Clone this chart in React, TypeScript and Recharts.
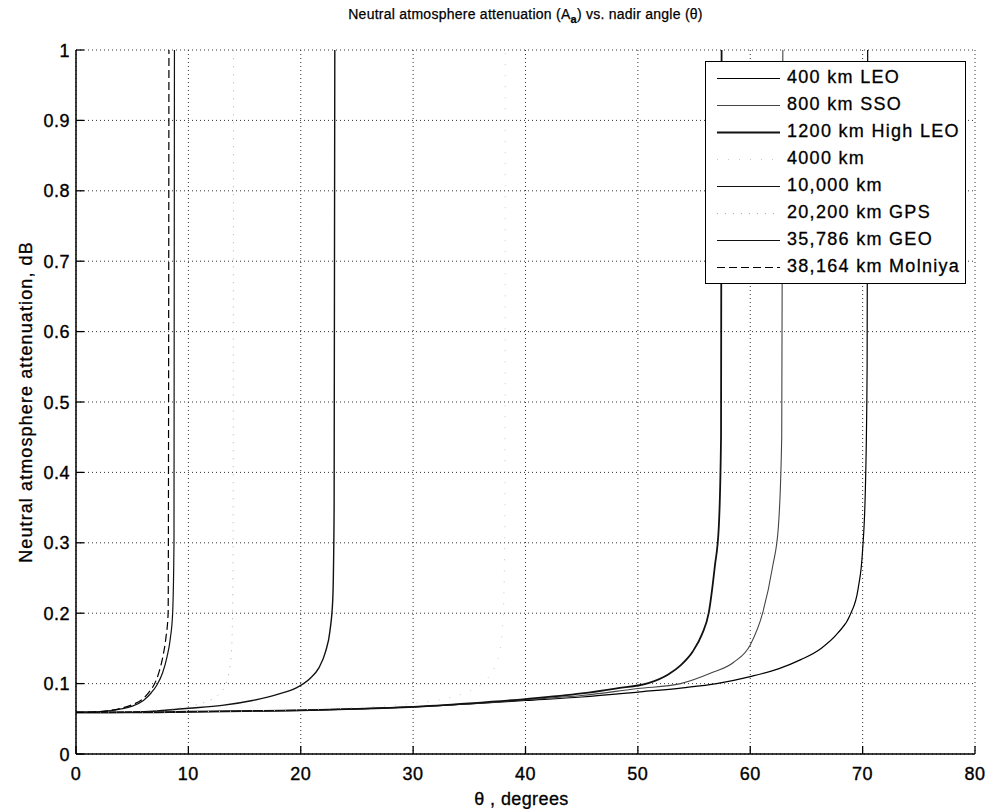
import React from 'react';
import { LineChart, Line, XAxis, YAxis, CartesianGrid, Legend, Label } from 'recharts';

const FONT = '"Liberation Sans", Arial, Helvetica, sans-serif';

const xTicks = [0, 10, 20, 30, 40, 50, 60, 70, 80];
const yTicks = [0, 0.1, 0.2, 0.3, 0.4, 0.5, 0.6, 0.7, 0.8, 0.9, 1];
const yTickLabels = ['0', '0.1', '0.2', '0.3', '0.4', '0.5', '0.6', '0.7', '0.8', '0.9', '1'];

// 400 km LEO
const leo400Theta = [0, 5, 10, 15, 20, 25, 30, 35, 40, 45, 50, 54, 57, 60, 62.5, 64.5, 66.3, 67.8, 68.9, 69.6, 70.0, 70.25, 70.4, 70.45];
const leo400Atten = [0.059, 0.059, 0.06, 0.061, 0.062, 0.064, 0.067, 0.071, 0.076, 0.081, 0.088, 0.094, 0.1, 0.11, 0.121, 0.134, 0.15, 0.172, 0.198, 0.235, 0.29, 0.38, 0.55, 1.0];

// 800 km SSO
const sso800Theta = [0, 5, 10, 15, 20, 25, 30, 35, 40, 45, 50, 53.8, 56.5, 58.5, 60, 61.1, 62.0, 62.5, 62.8, 62.9];
const sso800Atten = [0.059, 0.059, 0.06, 0.061, 0.062, 0.064, 0.067, 0.071, 0.077, 0.083, 0.093, 0.1, 0.115, 0.13, 0.155, 0.2, 0.267, 0.322, 0.45, 1.0];

// 1200 km High LEO
const leo1200Theta = [0, 5, 10, 15, 20, 25, 30, 35, 40, 45, 48, 51, 52.7, 53.8, 54.9, 55.7, 56.3, 56.85, 57.2, 57.4, 57.45];
const leo1200Atten = [0.059, 0.059, 0.06, 0.061, 0.062, 0.064, 0.067, 0.072, 0.078, 0.086, 0.093, 0.101, 0.113, 0.126, 0.146, 0.17, 0.2, 0.267, 0.322, 0.45, 1.0];

// 4000 km
const meo4000Theta = [0, 5, 10, 15, 20, 25, 28, 31, 33, 34.5, 35.7, 36.6, 37.3, 37.8, 38.05, 38.17, 38.2];
const meo4000Atten = [0.059, 0.059, 0.06, 0.061, 0.063, 0.066, 0.069, 0.074, 0.079, 0.086, 0.095, 0.107, 0.125, 0.155, 0.21, 0.35, 1.0];

// 10,000 km
const meo10kTheta = [0, 3, 6, 10, 13, 15.7, 18, 19.6, 20.8, 21.6, 22.2, 22.6, 22.85, 22.97, 23.03];
const meo10kAtten = [0.059, 0.059, 0.06, 0.065, 0.069, 0.076, 0.085, 0.094, 0.107, 0.122, 0.145, 0.175, 0.22, 0.35, 1.0];

// 20,200 km GPS
const gpsTheta = [0, 4, 7, 9, 10.5, 11.7, 12.6, 13.2, 13.6, 13.85, 13.97, 14.02];
const gpsAtten = [0.059, 0.06, 0.062, 0.065, 0.069, 0.075, 0.083, 0.095, 0.115, 0.15, 0.25, 1.0];

// 35,786 km GEO
const geoTheta = [0, 2, 4, 5, 6, 6.7, 7.2, 7.7, 8.1, 8.4, 8.6, 8.72, 8.76];
const geoAtten = [0.059, 0.06, 0.064, 0.068, 0.076, 0.087, 0.098, 0.115, 0.138, 0.165, 0.2, 0.3, 1.0];

// 38,164 km Molniya
const molniyaTheta = [0, 2, 4, 5, 6, 6.5, 7.0, 7.4, 7.75, 8.0, 8.2, 8.27];
const molniyaAtten = [0.059, 0.06, 0.065, 0.07, 0.079, 0.088, 0.1, 0.117, 0.14, 0.165, 0.2, 1.0];

const toPoints = (t: number[], a: number[]) => t.map((x, i) => ({ t: x, a: a[i] }));

const series = [
  { name: '400 km LEO', data: toPoints(leo400Theta, leo400Atten), stroke: '#000', width: 1.2, dash: undefined as string | undefined },
  { name: '800 km SSO', data: toPoints(sso800Theta, sso800Atten), stroke: '#444', width: 1.1, dash: undefined },
  { name: '1200 km High LEO', data: toPoints(leo1200Theta, leo1200Atten), stroke: '#111', width: 1.8, dash: undefined },
  { name: '4000 km', data: toPoints(meo4000Theta, meo4000Atten), stroke: '#c8c8c8', width: 1, dash: '1 10' },
  { name: '10,000 km', data: toPoints(meo10kTheta, meo10kAtten), stroke: '#111', width: 1.4, dash: undefined },
  { name: '20,200 km GPS', data: toPoints(gpsTheta, gpsAtten), stroke: '#b0b0b0', width: 1, dash: '1 7' },
  { name: '35,786 km GEO', data: toPoints(geoTheta, geoAtten), stroke: '#111', width: 1.2, dash: undefined },
  { name: '38,164 km Molniya', data: toPoints(molniyaTheta, molniyaAtten), stroke: '#000', width: 1.2, dash: '8 4' },
];

const LeftTick = (props: any) => {
  const { x, y, payload, index } = props;
  return (
    <g>
      <line x1={x + 6} x2={x + 14} y1={y} y2={y} stroke="#000" strokeWidth={1.3} />
      <text x={x} y={y} dy={6.5} textAnchor="end" fontSize={18} fontFamily={FONT} fill="#000" stroke="#000" strokeWidth={0.35} letterSpacing={0.5}>
        {yTickLabels[index] ?? String(payload.value)}
      </text>
    </g>
  );
};

const RightTick = (props: any) => {
  const { x, y } = props;
  return <line x1={x} x2={x - 8} y1={y} y2={y} stroke="#000" strokeWidth={1.3} />;
};

const BottomTick = (props: any) => {
  const { x, y, payload } = props;
  return (
    <g>
      <line x1={x} x2={x} y1={y} y2={y - 8} stroke="#000" strokeWidth={1.3} />
      <text x={x} y={y} dy={26} textAnchor="middle" fontSize={18} fontFamily={FONT} fill="#000" stroke="#000" strokeWidth={0.35} letterSpacing={0.5}>
        {String(payload.value)}
      </text>
    </g>
  );
};

const TopTick = (props: any) => {
  const { x, y } = props;
  return <line x1={x} x2={x} y1={y} y2={y + 8} stroke="#000" strokeWidth={1.3} />;
};

const LegendBox = (props: any) => {
  const payload = (props.payload || []) as any[];
  const names = new Set(payload.map((p: any) => p.value));
  return (
    <div
      style={{
        border: '1px solid #000',
        background: '#fff',
        boxSizing: 'border-box',
        width: 261,
        paddingTop: 2,
        paddingBottom: 3,
        fontFamily: FONT,
      }}
    >
      {series
        .filter((s) => names.has(s.name))
        .map((s) => (
          <div key={s.name} style={{ display: 'flex', alignItems: 'center', height: 27 }}>
            <svg width={63} height={10} style={{ marginLeft: 11, marginRight: 7, flex: 'none' }}>
              <line x1={0} x2={63} y1={5.5} y2={5.5} stroke={s.stroke} strokeWidth={s.width > 1.5 ? 2 : 1} strokeDasharray={s.dash} />
            </svg>
            <span
              style={{
                fontSize: 18,
                letterSpacing: 1.3,
                color: '#000',
                whiteSpace: 'nowrap',
                WebkitTextStroke: '0.3px #000',
              }}
            >
              {s.name}
            </span>
          </div>
        ))}
    </div>
  );
};

const YLabel = (props: any) => {
  const vb = props.viewBox || { x: 0, y: 0, width: 0, height: 0 };
  const cx = vb.x + 32;
  const cy = vb.y + vb.height / 2;
  return (
    <text
      x={cx}
      y={cy}
      transform={`rotate(-90, ${cx}, ${cy})`}
      textAnchor="middle"
      fontSize={18}
      letterSpacing={1.1}
      fontFamily={FONT}
      fill="#000"
      stroke="#000"
      strokeWidth={0.3}
    >
      Neutral atmosphere attenuation, dB
    </text>
  );
};

const XLabel = (props: any) => {
  const vb = props.viewBox || { x: 0, y: 0, width: 0, height: 0 };
  return (
    <text
      x={vb.x + vb.width / 2 - 4}
      y={vb.y + 51}
      textAnchor="middle"
      fontSize={18}
      letterSpacing={0.4}
      fontFamily={FONT}
      fill="#000"
      stroke="#000"
      strokeWidth={0.3}
    >
      θ , degrees
    </text>
  );
};

export default function App() {
  return (
    <div style={{ position: 'absolute', left: 0, top: 0, width: 988, height: 809, background: '#fff', fontFamily: FONT }}>
      <div
        style={{
          position: 'absolute',
          left: 76,
          width: 899,
          top: 6,
          textAlign: 'center',
          fontSize: 14,
          letterSpacing: 0.25,
          lineHeight: '16px',
          color: '#000',
          zIndex: 2,
          WebkitTextStroke: '0.25px #000',
        }}
      >
        Neutral atmosphere attenuation (A<span style={{ fontSize: 11, position: 'relative', top: 4, fontWeight: 'bold' }}>a</span>) vs. nadir angle (θ)
      </div>
      <LineChart width={988} height={809} margin={{ top: 50, right: 13, bottom: 0, left: 0 }}>
        <CartesianGrid stroke="#333" strokeDasharray="1 3" strokeWidth={1} />
        <XAxis
          dataKey="t"
          type="number"
          domain={[0, 80]}
          ticks={xTicks}
          allowDataOverflow
          height={55}
          tickSize={0}
          tickMargin={0}
          tick={<BottomTick />}
          axisLine={{ stroke: '#000', strokeWidth: 1.5 }}
          tickLine={false}
          interval={0}
        >
          <Label content={<XLabel />} />
        </XAxis>
        <XAxis
          xAxisId="top"
          orientation="top"
          dataKey="t"
          type="number"
          domain={[0, 80]}
          ticks={xTicks}
          allowDataOverflow
          height={0}
          tickSize={0}
          tickMargin={0}
          tick={<TopTick />}
          axisLine={{ stroke: '#000', strokeWidth: 1.5 }}
          tickLine={false}
          interval={0}
        />
        <YAxis
          type="number"
          domain={[0, 1]}
          ticks={yTicks}
          allowDataOverflow
          width={76}
          tickSize={0}
          tickMargin={6}
          tick={<LeftTick />}
          axisLine={{ stroke: '#000', strokeWidth: 1.5 }}
          tickLine={false}
          interval={0}
        >
          <Label content={<YLabel />} />
        </YAxis>
        <YAxis
          yAxisId="r"
          orientation="right"
          type="number"
          domain={[0, 1]}
          ticks={yTicks}
          allowDataOverflow
          width={0}
          tickSize={0}
          tickMargin={0}
          tick={<RightTick />}
          axisLine={{ stroke: '#000', strokeWidth: 1.5 }}
          tickLine={false}
          interval={0}
        />
        <Legend
          layout="vertical"
          align="center"
          verticalAlign="middle"
          content={<LegendBox />}
          wrapperStyle={{ position: 'absolute', top: 61, left: 705, width: 261, right: 'auto', bottom: 'auto' }}
        />
        {series.map((s) => (
          <Line
            key={s.name}
            name={s.name}
            data={s.data}
            dataKey="a"
            type="monotone"
            stroke={s.stroke}
            strokeWidth={s.width}
            strokeDasharray={s.dash}
            dot={false}
            activeDot={false}
            isAnimationActive={false}
            legendType="line"
          />
        ))}
      </LineChart>
    </div>
  );
}
